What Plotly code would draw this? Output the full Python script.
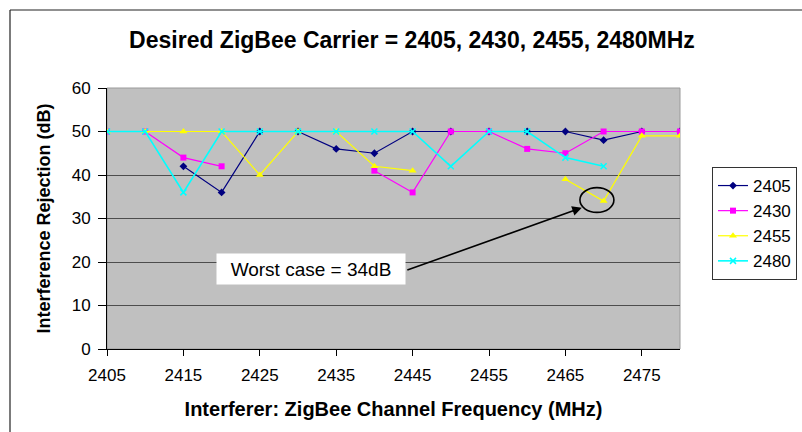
import plotly.graph_objects as go

# ---- data ----
freqs = [2405, 2410, 2415, 2420, 2425, 2430, 2435, 2440, 2445, 2450, 2455, 2460, 2465, 2470, 2475, 2480]
s2405 = [None, None, 42, 36, 50, 50, 46, 45, 50, 50, 50, 50, 50, 48, 50, 50]
s2430 = [50, 50, 44, 42, None, None, None, 41, 36, 50, 50, 46, 45, 50, 50, 50]
s2455 = [50, 50, 50, 50, 40, 50, 50, 42, 41, None, None, None, 39, 34, 49, 49]
s2480 = [50, 50, 36, 50, 50, 50, 50, 50, 50, 42, 50, 50, 44, 42, None, None]
series_names = ["2405", "2430", "2455", "2480"]
x_tick_vals = [2405, 2415, 2425, 2435, 2445, 2455, 2465, 2475]
y_tick_vals = [0, 10, 20, 30, 40, 50, 60]

title_text = "Desired ZigBee Carrier = 2405, 2430, 2455, 2480MHz"
x_title = "Interferer: ZigBee Channel Frequency (MHz)"
y_title = "Interference Rejection (dB)"

W, H = 802, 432
L, R, T, B = 107, 122, 88, 83
PW, PH = W - L - R, H - T - B

def px(xp):
    return (xp - L) / PW

def py(yp):
    return (H - B - yp) / PH

FONT = "Liberation Sans, Arial, sans-serif"

styles = [
    dict(color="#000080", symbol="diamond", size=6, lw=1.2),
    dict(color="#FF00FF", symbol="square", size=6, lw=1.2),
    dict(color="#FFFF00", symbol="triangle-up", size=7, lw=1.2),
    dict(color="#00FFFF", symbol="x-thin", size=6, lw=1.6),
]

fig = go.Figure()
for name, vals, st in zip(series_names, [s2405, s2430, s2455, s2480], styles):
    marker = dict(color=st["color"], symbol=st["symbol"], size=st["size"])
    if st["symbol"] == "x-thin":
        marker["line"] = dict(color=st["color"], width=1.5)
    fig.add_trace(go.Scatter(
        x=freqs, y=vals, name=name, mode="lines+markers",
        line=dict(color=st["color"], width=st["lw"]),
        marker=marker, connectgaps=False, legendgroup=name,
    ))

# worst case point from the data
worst_val = min(v for v in s2455 if v is not None)
worst_x = freqs[s2455.index(worst_val)]

shapes = [
    # plot area border (light gray)
    dict(type="rect", xref="paper", yref="paper", x0=0, x1=1, y0=0, y1=1,
         line=dict(color="#9a9a9a", width=1), layer="below"),
    # chart frame (top and left visible)
    dict(type="line", xref="paper", yref="paper", x0=px(10), x1=px(805), y0=py(10), y1=py(10),
         line=dict(color="#222222", width=1.2)),
    dict(type="line", xref="paper", yref="paper", x0=px(10), x1=px(10), y0=py(10), y1=py(435),
         line=dict(color="#222222", width=1.2)),
    # ellipse around the worst case
    dict(type="circle", xref="x", yref="y",
         x0=worst_x - 3.1, x1=worst_x + 1.35, y0=worst_val - 2.6, y1=worst_val + 3.1,
         line=dict(color="black", width=1.6)),
]

annotations = [
    dict(x=worst_x - 2.85, y=worst_val - 1.5, xref="x", yref="y", text="",
         showarrow=True, arrowhead=2, arrowsize=1.2, arrowwidth=1.6, arrowcolor="black",
         ax=-176, ay=63, axref="pixel", ayref="pixel"),
    dict(x=px(311), y=py(285), xref="paper", yref="paper",
         text=f"Worst case = {worst_val}dB", showarrow=False,
         bgcolor="white", width=186, height=28,
         font=dict(family=FONT, size=19, color="black")),
]

fig.update_layout(
    width=W, height=H,
    margin=dict(l=L, r=R, t=T, b=B, autoexpand=False),
    paper_bgcolor="white", plot_bgcolor="#C0C0C0",
    font=dict(family=FONT, color="black"),
    title=dict(text=f"<b>{title_text}</b>", x=412 / W, y=1 - 40 / H, xref="container", yref="container",
               xanchor="center", yanchor="middle", font=dict(family=FONT, size=23, color="black")),
    xaxis=dict(range=[2405, 2480], tickvals=x_tick_vals, ticks="outside", ticklen=6, tickcolor="black",
               showline=True, linecolor="black", linewidth=1, showgrid=False, zeroline=False,
               ticklabelstandoff=5,
               tickfont=dict(family=FONT, size=17, color="black"),
               title=dict(text=f"<b>{x_title}</b>", font=dict(family=FONT, size=20, color="black"), standoff=17),
               automargin=False),
    yaxis=dict(range=[0, 60], tickvals=y_tick_vals, ticks="outside", ticklen=8, tickcolor="black",
               showline=True, linecolor="black", linewidth=1, showgrid=True, gridcolor="#4d4d4d", gridwidth=1,
               zeroline=False, ticklabelstandoff=4,
               tickfont=dict(family=FONT, size=17, color="black"),
               title=dict(text=f"<b>{y_title}</b>", font=dict(family=FONT, size=18, color="black"), standoff=16),
               automargin=False),
    legend=dict(x=px(712), y=py(167), xanchor="left", yanchor="top", xref="paper", yref="paper",
                bgcolor="white", bordercolor="#333333", borderwidth=1,
                font=dict(family=FONT, size=17, color="black"), tracegroupgap=0, itemclick=False),
    shapes=shapes, annotations=annotations, showlegend=True,
)

fig.write_html("out.html", config={"displayModeBar": False},
               post_script="document.body.style.margin='0';document.body.style.padding='0';")
